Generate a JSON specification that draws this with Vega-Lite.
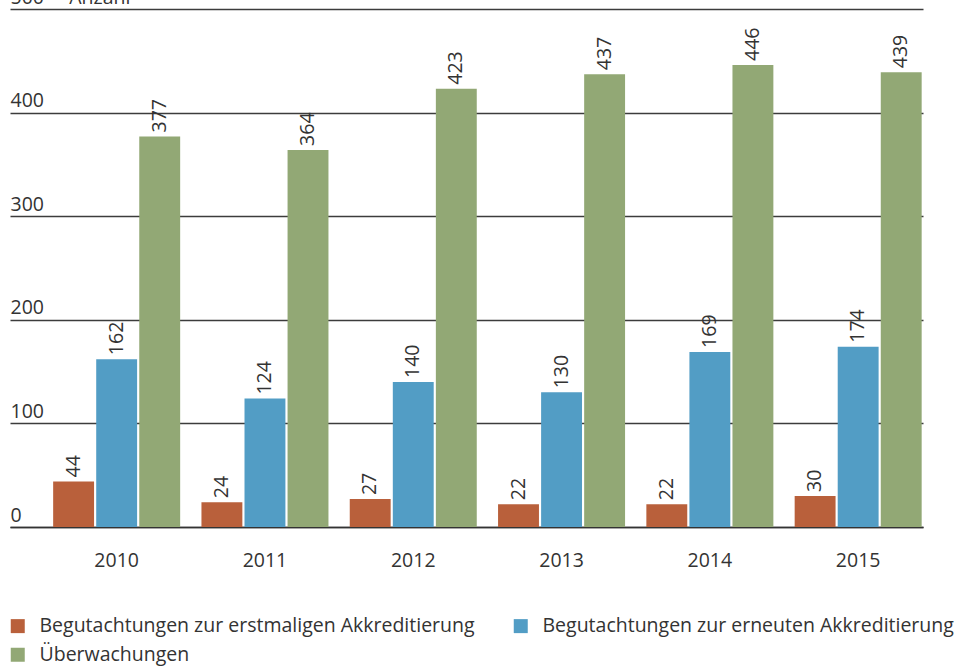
{
  "$schema": "https://vega.github.io/schema/vega-lite/v6.json",
  "autosize": {"type": "none"},
  "width": 913,
  "height": 518,
  "padding": {"left": 10, "top": 9, "right": 37, "bottom": 139},
  "background": "white",
  "config": {
    "view": {"stroke": null},
    "font": "Open Sans",
    "text": {"font": "Open Sans"}
  },
  "data": {
    "values": [
      {"jahr": "2010", "serie": "Begutachtungen zur erstmaligen Akkreditierung", "anzahl": 44},
      {"jahr": "2010", "serie": "Begutachtungen zur erneuten Akkreditierung", "anzahl": 162},
      {"jahr": "2010", "serie": "Überwachungen", "anzahl": 377},
      {"jahr": "2011", "serie": "Begutachtungen zur erstmaligen Akkreditierung", "anzahl": 24},
      {"jahr": "2011", "serie": "Begutachtungen zur erneuten Akkreditierung", "anzahl": 124},
      {"jahr": "2011", "serie": "Überwachungen", "anzahl": 364},
      {"jahr": "2012", "serie": "Begutachtungen zur erstmaligen Akkreditierung", "anzahl": 27},
      {"jahr": "2012", "serie": "Begutachtungen zur erneuten Akkreditierung", "anzahl": 140},
      {"jahr": "2012", "serie": "Überwachungen", "anzahl": 423},
      {"jahr": "2013", "serie": "Begutachtungen zur erstmaligen Akkreditierung", "anzahl": 22},
      {"jahr": "2013", "serie": "Begutachtungen zur erneuten Akkreditierung", "anzahl": 130},
      {"jahr": "2013", "serie": "Überwachungen", "anzahl": 437},
      {"jahr": "2014", "serie": "Begutachtungen zur erstmaligen Akkreditierung", "anzahl": 22},
      {"jahr": "2014", "serie": "Begutachtungen zur erneuten Akkreditierung", "anzahl": 169},
      {"jahr": "2014", "serie": "Überwachungen", "anzahl": 446},
      {"jahr": "2015", "serie": "Begutachtungen zur erstmaligen Akkreditierung", "anzahl": 30},
      {"jahr": "2015", "serie": "Begutachtungen zur erneuten Akkreditierung", "anzahl": 174},
      {"jahr": "2015", "serie": "Überwachungen", "anzahl": 439}
    ]
  },
  "encoding": {
    "x": {
      "field": "jahr",
      "type": "nominal",
      "scale": {"paddingInner": 0.1436, "paddingOuter": 0.15, "align": 0.97},
      "axis": {
        "title": null,
        "labelAngle": 0,
        "ticks": false,
        "domain": true,
        "domainColor": "#333333",
        "domainWidth": 1.6,
        "labelFont": "Open Sans",
        "labelFontSize": 19.5,
        "labelColor": "#333333",
        "labelPadding": 24
      }
    },
    "xOffset": {
      "field": "serie",
      "type": "nominal",
      "sort": ["Begutachtungen zur erstmaligen Akkreditierung", "Begutachtungen zur erneuten Akkreditierung", "Überwachungen"],
      "scale": {"paddingInner": 0.05, "paddingOuter": 0}
    },
    "y": {
      "field": "anzahl",
      "type": "quantitative",
      "scale": {"domain": [0, 500], "nice": false},
      "axis": {
        "title": null,
        "values": [0, 100, 200, 300, 400, 500],
        "grid": true,
        "gridColor": "#3c3c3c",
        "gridWidth": 1.3,
        "domain": false,
        "ticks": false,
        "tickSize": 0,
        "labelAlign": "left",
        "labelBaseline": "alphabetic",
        "labelPadding": 0,
        "labelOffset": -6,
        "labelFont": "Open Sans",
        "labelFontSize": 19.5,
        "labelColor": "#333333",
        "labelExpr": "datum.value == 500 ? '500\u00a0\u00a0\u00a0\u00a0\u00a0Anzahl' : datum.label"
      }
    }
  },
  "layer": [
    {
      "mark": {"type": "bar"},
      "encoding": {
        "color": {
          "field": "serie",
          "type": "nominal",
          "sort": ["Begutachtungen zur erstmaligen Akkreditierung", "Begutachtungen zur erneuten Akkreditierung", "Überwachungen"],
          "scale": {
            "domain": ["Begutachtungen zur erstmaligen Akkreditierung", "Begutachtungen zur erneuten Akkreditierung", "Überwachungen"],
            "range": ["#B9603B", "#529DC5", "#92A875"]
          },
          "legend": {
            "title": null,
            "orient": "none",
            "legendX": -2,
            "legendY": 607,
            "direction": "horizontal",
            "columns": 2,
            "columnPadding": 36,
            "rowPadding": 8,
            "symbolType": "square",
            "symbolSize": 196,
            "symbolStrokeWidth": 0,
            "symbolOpacity": 1,
            "labelOffset": 12,
            "labelFont": "Open Sans",
            "labelFontSize": 19.5,
            "labelColor": "#333333",
            "labelLimit": 0,
            "padding": 0
          }
        }
      }
    },
    {
      "mark": {
        "type": "text",
        "angle": 270,
        "align": "left",
        "baseline": "middle",
        "dx": 4,
        "fontSize": 19.5,
        "color": "#333333"
      },
      "encoding": {
        "text": {"field": "anzahl", "type": "quantitative"}
      }
    }
  ]
}
